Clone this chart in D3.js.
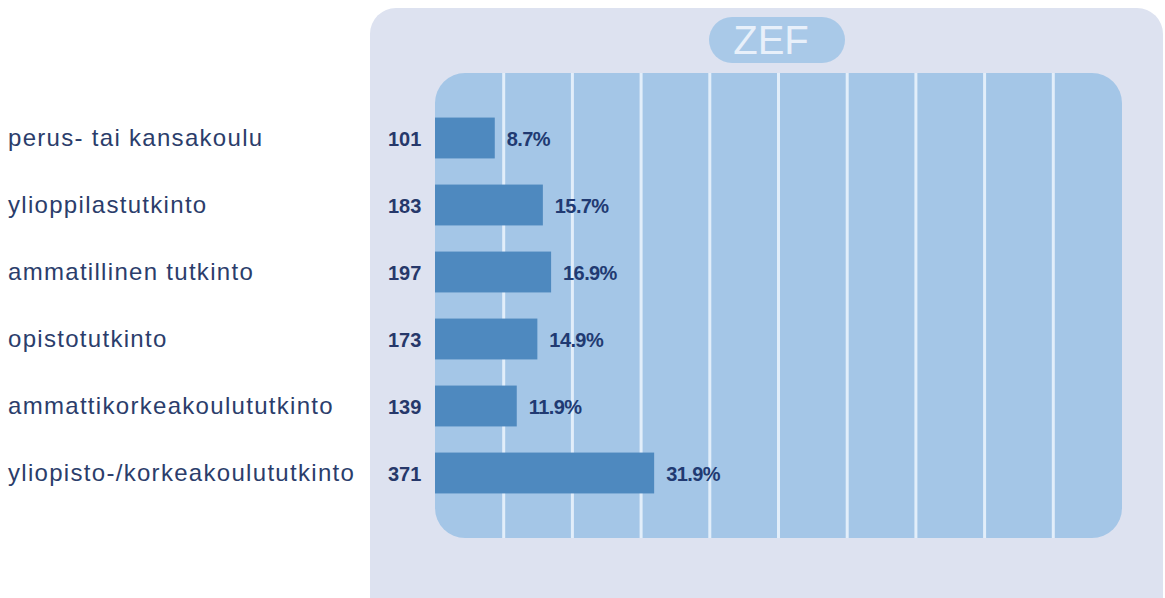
<!DOCTYPE html>
<html>
<head>
<meta charset="utf-8">
<script src="https://cdn.jsdelivr.net/npm/d3@7"></script>
<style>
  body { margin: 0; background: #fff; }
  svg { display: block; }
</style>
</head>
<body>
<div id="chart"></div>
<script>
var categories = ['perus- tai kansakoulu', 'ylioppilastutkinto', 'ammatillinen tutkinto',
  'opistotutkinto', 'ammattikorkeakoulututkinto', 'yliopisto-/korkeakoulututkinto']
var counts = [101, 183, 197, 173, 139, 371]
var percents = [8.7, 15.7, 16.9, 14.9, 11.9, 31.9]

var W = 1165, H = 598
var svg = d3.select('#chart').append('svg')
  .attr('width', W)
  .attr('height', H)

var x = d3.scaleLinear().domain([0, 100]).range([435, 1122])
var y = d3.scaleBand().domain(categories).range([104.5, 506.5])
  .paddingInner(0.39).paddingOuter(0.195)

// outer panel
svg.append('rect')
  .attr('x', 370).attr('y', 8)
  .attr('width', 793).attr('height', 640)
  .attr('rx', 26)
  .attr('fill', '#dde2f0')

// ZEF badge
svg.append('rect')
  .attr('x', 709).attr('y', 17)
  .attr('width', 136).attr('height', 46)
  .attr('rx', 23)
  .attr('fill', '#a9c9e8')
svg.append('text')
  .attr('x', 771).attr('y', 54)
  .attr('text-anchor', 'middle')
  .attr('font-family', 'Liberation Sans, Arial, sans-serif')
  .attr('font-size', 40)
  .attr('fill', '#e8f0fa')
  .text('ZEF')

// plot area
svg.append('rect')
  .attr('x', x(0)).attr('y', 73)
  .attr('width', x(100) - x(0)).attr('height', 465)
  .attr('rx', 30)
  .attr('fill', '#a4c6e7')

// grid
svg.selectAll('line.grid')
  .data(x.ticks(10).filter(function(d) { return d > 0 && d < 100 }))
  .enter().append('line')
  .attr('class', 'grid')
  .attr('x1', function(d) { return x(d) })
  .attr('x2', function(d) { return x(d) })
  .attr('y1', 73).attr('y2', 538)
  .attr('stroke', '#e2eefa')
  .attr('stroke-width', 3)

// bars
svg.selectAll('rect.bar')
  .data(categories)
  .enter().append('rect')
  .attr('class', 'bar')
  .attr('x', x(0))
  .attr('y', function(d) { return y(d) })
  .attr('width', function(d, i) { return x(percents[i]) - x(0) })
  .attr('height', y.bandwidth())
  .attr('fill', '#4e89bf')

// category labels
svg.selectAll('text.cat')
  .data(categories)
  .enter().append('text')
  .attr('class', 'cat')
  .attr('x', 8)
  .attr('y', function(d) { return y(d) + y.bandwidth() / 2 + 8 })
  .attr('font-family', 'Liberation Sans, Arial, sans-serif')
  .attr('font-size', 24)
  .attr('letter-spacing', 1.3)
  .attr('fill', '#2b3d6b')
  .text(function(d) { return d })

// counts
svg.selectAll('text.cnt')
  .data(categories)
  .enter().append('text')
  .attr('class', 'cnt')
  .attr('x', 388)
  .attr('y', function(d) { return y(d) + y.bandwidth() / 2 + 8 })
  .attr('font-family', 'Liberation Sans, Arial, sans-serif')
  .attr('font-size', 20)
  .attr('font-weight', 'bold')
  .attr('fill', '#26386a')
  .text(function(d, i) { return counts[i] })

// percent labels
svg.selectAll('text.pct')
  .data(categories)
  .enter().append('text')
  .attr('class', 'pct')
  .attr('x', function(d, i) { return x(percents[i]) + 12 })
  .attr('y', function(d) { return y(d) + y.bandwidth() / 2 + 8 })
  .attr('font-family', 'Liberation Sans, Arial, sans-serif')
  .attr('font-size', 20)
  .attr('font-weight', 'bold')
  .attr('letter-spacing', -0.6)
  .attr('fill', '#213a72')
  .text(function(d, i) { return percents[i].toFixed(1) + '%' })
</script>
</body>
</html>
